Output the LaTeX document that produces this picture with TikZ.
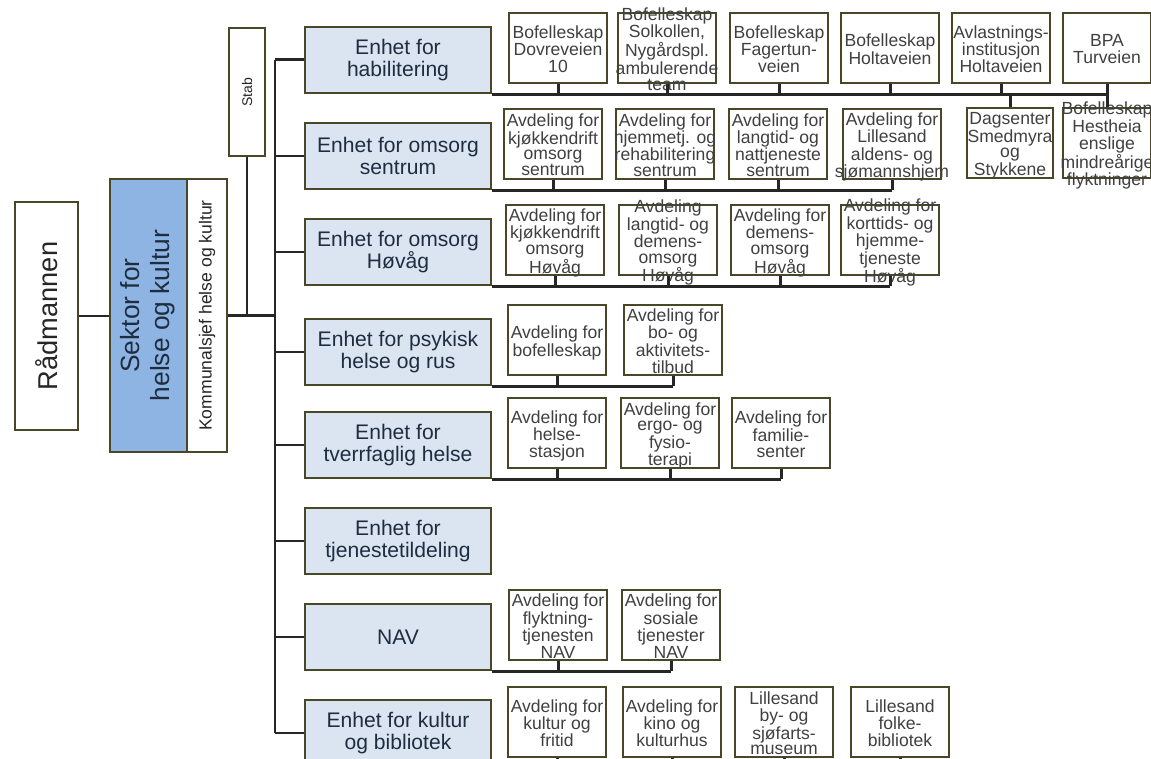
\documentclass[tikz,border=0pt]{standalone}
\usepackage{fontspec}
\setmainfont{Liberation Sans}
\usetikzlibrary{calc}

\definecolor{rim}{HTML}{4A4628}
\definecolor{sektorblue}{HTML}{8DB4E2}
\definecolor{unitblue}{HTML}{DBE5F1}
\definecolor{inktext}{HTML}{1F2D40}

% text that may spill over its box without making the box grow
\newcommand{\spill}[1]{\makebox[0pt]{\smash{\raisebox{-4.4pt}{\begin{tabular}{@{}c@{}}#1\end{tabular}}}}}

\tikzset{
  box/.style={draw=rim, line width=1.6pt, fill=white, inner sep=0pt, align=center},
  unit/.style={box, fill=unitblue, minimum width=3.72cm, minimum height=1.32cm,
    font=\fontsize{12}{12.5}\selectfont, text=inktext},
  dept/.style={box, minimum width=1.96cm, minimum height=1.40cm,
    font=\fontsize{10}{8.8}\selectfont, text=black!75},
  link/.style={line width=1.7pt, black!85},
}

\begin{document}
\begin{tikzpicture}[x=0.02cm, y=-0.02cm]
        \useasboundingbox (0,0) rectangle (1151,759);
        \fill[white] (0,0) rectangle (1151,759);
        % top of the tree
        \node[box, minimum width=1.26cm, minimum height=4.56cm, text=black!85,
              font=\fontsize{15.5}{17}\selectfont] (rad) at (46.5,316) {\rotatebox{90}{Rådmannen}};
        \node[box, fill=sektorblue, minimum width=1.54cm, minimum height=5.46cm, text=inktext,
              font=\fontsize{15}{17}\selectfont] (sektor) at (148.5,315.5)
              {\rotatebox{90}{\begin{tabular}{@{}c@{}}Sektor for\\helse og kultur\end{tabular}}};
        \node[box, minimum width=0.80cm, minimum height=5.46cm, text=black!85,
              font=\fontsize{10}{12}\selectfont] (komm) at (207,315.5)
              {\rotatebox{90}{Kommunalsjef helse og kultur}};
        \node[box, minimum width=0.72cm, minimum height=2.56cm, text=black!85,
              font=\fontsize{8}{10}\selectfont] (stab) at (247,92) {\rotatebox{90}{Stab}};
        \coordinate (trunk) at (275,315.5);
        \draw[link] (rad.east) -- (rad.east -| sektor.west);
        \draw[link] (komm.east) -- (trunk);
        \draw[link] (stab.south) -- (stab.south |- trunk);

        % enheter
        \node[unit] (e1) at (398,60) {Enhet for\\habilitering};
        \node[unit] (e2) at (398,156) {Enhet for omsorg\\sentrum};
        \node[unit] (e3) at (398,252) {Enhet for omsorg\\Høvåg};
        \node[unit] (e4) at (398,352) {Enhet for psykisk\\helse og rus};
        \node[unit] (e5) at (398,445) {Enhet for\\tverrfaglig helse};
        \node[unit] (e6) at (398,541) {Enhet for\\tjenestetildeling};
        \node[unit] (e7) at (398,637) {NAV};
        \node[unit] (e8) at (398,733) {Enhet for kultur\\og bibliotek};
        \draw[link] (trunk |- e1.west) -- (trunk |- e8.west);
        \draw[link] (e1.west) -- (trunk |- e1.west);
        \draw[link] (e2.west) -- (trunk |- e2.west);
        \draw[link] (e3.west) -- (trunk |- e3.west);
        \draw[link] (e4.west) -- (trunk |- e4.west);
        \draw[link] (e5.west) -- (trunk |- e5.west);
        \draw[link] (e6.west) -- (trunk |- e6.west);
        \draw[link] (e7.west) -- (trunk |- e7.west);
        \draw[link] (e8.west) -- (trunk |- e8.west);

        % habilitering
        \node[dept] (a11) at (558,48) {\spill{Bofelleskap\\Dovreveien\\10}};
        \node[dept] (a12) at (667,48) {\spill{Bofelleskap\\Solkollen,\\Nygårdspl.\\ambulerende\\team}};
        \node[dept] (a13) at (779,48) {\spill{Bofelleskap\\Fagertun-\\veien}};
        \node[dept] (a14) at (890,48) {\spill{Bofelleskap\\Holtaveien}};
        \node[dept] (a15) at (1001,48) {\spill{Avlastnings-\\institusjon\\Holtaveien}};
        \node[dept, minimum width=1.76cm] (a16) at (1107,48) {\spill{BPA\\Turveien}};
        \node[dept, minimum width=1.72cm] (a17) at (1010,143) {\spill{Dagsenter\\Smedmyra\\og\\Stykkene}};
        \node[dept, minimum width=1.76cm] (a18) at (1107,143) {\spill{Bofelleskap\\Hestheia\\enslige\\mindreårige\\flyktninger}};
        \draw[link] (e1.south east) -- (e1.south east -| a16.south);
        \draw[link] (a11.south) -- (a11.south |- e1.south east);
        \draw[link] (a12.south) -- (a12.south |- e1.south east);
        \draw[link] (a13.south) -- (a13.south |- e1.south east);
        \draw[link] (a14.south) -- (a14.south |- e1.south east);
        \draw[link] (a15.south) -- (a15.south |- e1.south east);
        \draw[link] (a16.south) -- (a16.south |- e1.south east);
        \draw[link] (a17.north) -- (a17.north |- e1.south east);
        \draw[link] (a18.north) -- (a18.north |- e1.south east);

        % omsorg sentrum
        \node[dept] (a21) at (553,144) {\spill{Avdeling for\\kjøkkendrift\\omsorg\\sentrum}};
        \node[dept] (a22) at (665,144) {\spill{Avdeling for\\hjemmetj. og\\rehabilitering\\sentrum}};
        \node[dept] (a23) at (778,144) {\spill{Avdeling for\\langtid- og\\nattjeneste\\sentrum}};
        \node[dept] (a24) at (892,144) {\spill{Avdeling for\\Lillesand\\aldens- og\\sjømannshjem}};
        \draw[link] (e2.south east) -- (e2.south east -| a24.south);
        \draw[link] (a21.south) -- (a21.south |- e2.south east);
        \draw[link] (a22.south) -- (a22.south |- e2.south east);
        \draw[link] (a23.south) -- (a23.south |- e2.south east);
        \draw[link] (a24.south) -- (a24.south |- e2.south east);

        % omsorg Høvåg
        \node[dept] (a31) at (555,240) {\spill{Avdeling for\\kjøkkendrift\\omsorg\\Høvåg}};
        \node[dept] (a32) at (668,240) {\spill{Avdeling\\langtid- og\\demens-\\omsorg\\Høvåg}};
        \node[dept] (a33) at (780,240) {\spill{Avdeling for\\demens-\\omsorg\\Høvåg}};
        \node[dept] (a34) at (890,240) {\spill{Avdeling for\\korttids- og\\hjemme-\\tjeneste\\Høvåg}};
        \draw[link] (e3.south east) -- (e3.south east -| a34.south);
        \draw[link] (a31.south) -- (a31.south |- e3.south east);
        \draw[link] (a32.south) -- (a32.south |- e3.south east);
        \draw[link] (a33.south) -- (a33.south |- e3.south east);
        \draw[link] (a34.south) -- (a34.south |- e3.south east);

        % psykisk helse
        \node[dept] (a41) at (557,340) {\spill{Avdeling for\\bofelleskap}};
        \node[dept] (a42) at (673,340) {\spill{Avdeling for\\bo- og\\aktivitets-\\tilbud}};
        \draw[link] (e4.south east) -- (e4.south east -| a42.south);
        \draw[link] (a41.south) -- (a41.south |- e4.south east);
        \draw[link] (a42.south) -- (a42.south |- e4.south east);

        % tverrfaglig helse
        \node[dept] (a51) at (557,433) {\spill{Avdeling for\\helse-\\stasjon}};
        \node[dept] (a52) at (670,433) {\spill{Avdeling for\\ergo- og\\fysio-\\terapi}};
        \node[dept] (a53) at (781,433) {\spill{Avdeling for\\familie-\\senter}};
        \draw[link] (e5.south east) -- (e5.south east -| a53.south);
        \draw[link] (a51.south) -- (a51.south |- e5.south east);
        \draw[link] (a52.south) -- (a52.south |- e5.south east);
        \draw[link] (a53.south) -- (a53.south |- e5.south east);

        % NAV
        \node[dept] (a71) at (558,625) {\spill{Avdeling for\\flyktning-\\tjenesten\\NAV}};
        \node[dept] (a72) at (671,625) {\spill{Avdeling for\\sosiale\\tjenester\\NAV}};
        \draw[link] (e7.south east) -- (e7.south east -| a72.south);
        \draw[link] (a71.south) -- (a71.south |- e7.south east);
        \draw[link] (a72.south) -- (a72.south |- e7.south east);

        % kultur og bibliotek
        \node[dept] (a81) at (557,722) {\spill{Avdeling for\\kultur og\\fritid}};
        \node[dept] (a82) at (672,722) {\spill{Avdeling for\\kino og\\kulturhus}};
        \node[dept] (a83) at (784,722) {\spill{Lillesand\\by- og\\sjøfarts-\\museum}};
        \node[dept] (a84) at (900,722) {\spill{Lillesand\\folke-\\bibliotek}};
        \draw[link] (e8.south east) -- (e8.south east -| a84.south);
        \draw[link] (a81.south) -- (a81.south |- e8.south east);
        \draw[link] (a82.south) -- (a82.south |- e8.south east);
        \draw[link] (a83.south) -- (a83.south |- e8.south east);
        \draw[link] (a84.south) -- (a84.south |- e8.south east);
\end{tikzpicture}
\end{document}
